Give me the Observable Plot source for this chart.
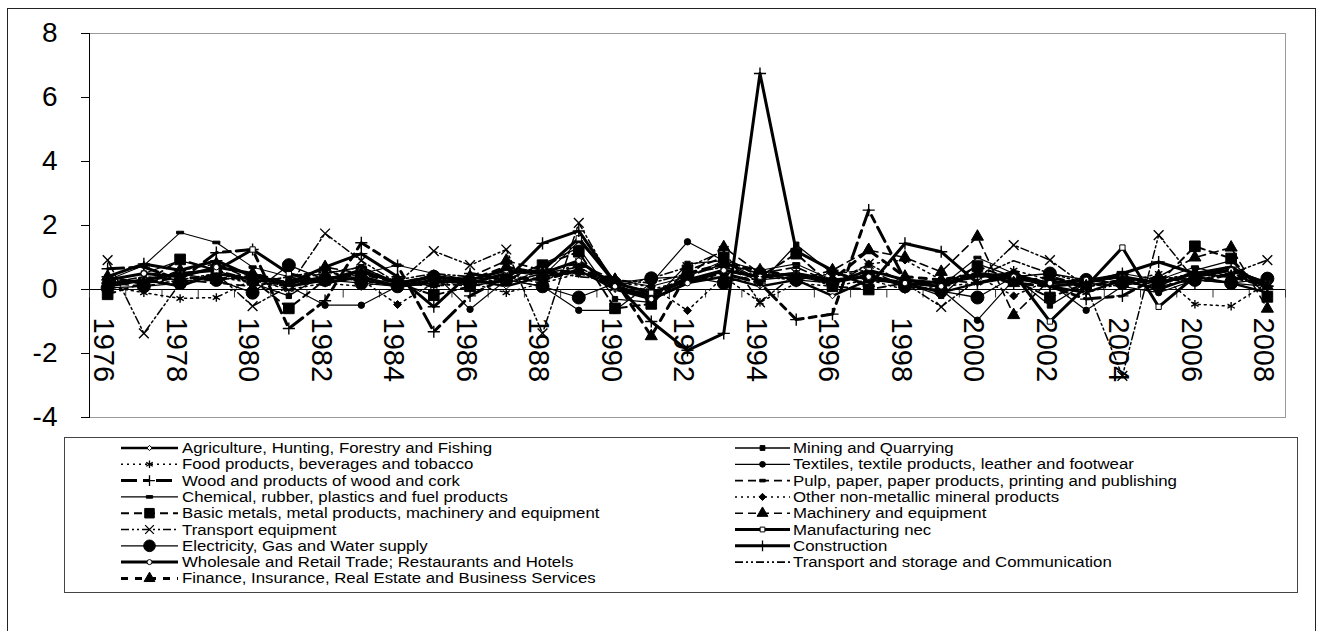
<!DOCTYPE html>
<html>
<head>
<meta charset="utf-8">
<script src="https://cdn.jsdelivr.net/npm/d3@7"></script>
<script src="https://cdn.jsdelivr.net/npm/@observablehq/plot@0.6"></script>
<style>
  body { margin: 0; background: #fff; font-family: "Liberation Sans", Arial, sans-serif; }
  #wrap { position: relative; width: 1320px; height: 631px; overflow: hidden; background: #fff; }
  #chart { position: absolute; left: 0; top: 0; }
  #legend { position: absolute; left: 0; top: 0; pointer-events: none; }
  #border { position: absolute; left: 7px; top: 8px; width: 1309px; height: 660px;
            border: 1.5px solid #222; box-sizing: border-box; pointer-events: none; }
</style>
</head>
<body>
<div id="wrap">
  <div id="chart"></div>
  <svg id="legend" width="1320" height="631"></svg>
  <div id="border"></div>
</div>
<script>
// Years on the category axis and the labelled subset
const years = d3.range(1976, 2009);
const yearLabels = [1976, 1978, 1980, 1982, 1984, 1986, 1988, 1990, 1992, 1994, 1996, 1998, 2000, 2002, 2004, 2006, 2008];
const yTicks = [-4, -2, 0, 2, 4, 6, 8];

// Series values, 1976–2008
const agriculture      = [0.2,0.3,0.1,0.5,0.3, 0.2,0.4,0.3,0.1,0.2, 0.3,0.1,0.4,0.6,0.0, -0.3,0.2,0.4,0.1,0.3, -0.2,0.3,0.2,-0.1,0.2, 0.5,0.1,-0.1,0.3,0.0, 0.4,0.2,-0.1];
const mining           = [0.3,0.5,0.9,0.6,0.2, -0.2,0.5,0.7,0.2,0.4, 0.1,0.3,0.8,1.3,-0.3, -0.4,0.8,0.9,0.2,1.4, 0.5,0.3,0.2,-0.2,0.8, 0.4,-0.5,0.2,0.4,0.1, 0.6,0.9,-0.2];
const food             = [0.1,-0.1,-0.28,-0.25,0.3, 0.0,0.2,0.1,0.3,0.1, 0.2,-0.1,0.2,0.9,0.1, 0.0,0.3,0.4,-0.4,0.2, 0.1,0.3,0.0,0.1,0.2, 0.6,0.3,-0.1,0.2,0.5, -0.46,-0.52,0.2];
const textiles         = [0.4,0.2,0.5,0.3,0.4, 0.1,-0.49,-0.49,0.1,0.5, -0.62,0.3,0.1,-0.65,-0.65, 0.2,1.49,0.9,0.3,0.4, 0.2,0.5,0.1,0.0,-0.96, 0.3,0.2,-0.65,0.1,-0.1, 0.3,0.2,0.1];
const wood             = [0.65,0.7,0.3,1.15,1.25, -1.22,-0.35,1.46,0.75,-1.32, -0.2,0.4,0.3,0.6,0.1, -0.2,0.3,0.5,0.2,-0.94, -0.77,2.48,0.3,0.1,0.5, 0.2,0.1,-0.3,-0.2,0.4, 0.2,0.5,0.1];
const pulp             = [0.2,0.1,0.3,0.2,0.1, 0.3,0.5,0.7,0.2,0.1, 0.3,0.2,0.5,0.7,0.1, -0.2,0.4,0.8,0.5,0.7, 0.2,0.6,0.1,0.3,0.2, 0.4,0.2,0.1,0.3,0.2, 0.4,0.6,0.1];
const chemical         = [0.3,0.75,1.78,1.47,0.7, 0.4,0.2,0.5,0.76,0.5, 0.3,0.6,0.4,1.5,0.3, 0.1,0.4,0.9,0.6,0.8, 0.3,0.4,0.2,0.1,1.0, 0.5,0.2,0.3,0.5,0.3, 0.7,0.4,0.2];
const otherMineral     = [0.1,0.3,0.2,0.4,0.2, 0.1,0.6,0.3,-0.47,0.2, 0.1,0.4,0.2,0.5,0.2, 0.1,-0.66,0.4,0.3,0.5, 0.2,0.8,0.92,0.3,0.4, -0.2,0.3,0.1,0.2,0.3, 0.5,0.4,0.1];
const basicMetals      = [-0.15,0.2,0.94,0.6,0.3, -0.59,0.3,0.55,0.2,-0.18, 0.1,0.3,0.76,1.18,-0.59, -0.45,0.6,1.0,0.4,1.12, 0.1,0.0,0.2,0.1,0.73, 0.3,-0.25,0.2,0.4,0.2, 1.35,0.97,-0.23];
const machinery        = [0.4,0.2,0.6,0.8,0.3, 0.1,0.7,0.5,0.3,0.2, 0.4,0.9,0.6,0.8,0.3, -0.2,0.4,1.32,0.5,0.3, 0.6,1.23,1.0,0.55,1.65, -0.8,0.3,0.1,0.2,0.4, 1.0,1.31,-0.6];
const transportEquip   = [0.92,-1.37,0.2,0.5,-0.52, 0.1,1.75,0.9,0.2,1.2, 0.76,1.25,-1.37,2.08,0.1, 0.35,0.7,1.2,-0.4,0.5, 0.1,0.8,0.2,-0.54,0.3, 1.39,0.92,0.1,-2.7,1.7, 0.3,0.5,0.92];
const manufacturingNec = [0.1,0.3,0.5,0.6,1.25, 0.5,0.2,0.4,0.1,0.3, 0.2,0.5,0.6,1.6,0.2, -0.1,0.3,0.6,0.4,0.5, 0.2,0.6,0.3,0.2,0.4, 0.5,-1.0,0.1,1.31,-0.54, 0.4,0.6,0.2];
const electricity      = [0.05,0.1,0.2,0.3,-0.1, 0.76,0.3,0.2,0.1,0.4, 0.2,0.3,0.1,-0.25,0.2, 0.35,0.4,0.2,0.5,0.3, 0.2,0.4,0.1,-0.05,-0.25, 0.4,0.5,0.3,0.2,0.1, 0.3,0.2,0.34];
const construction     = [0.4,0.8,0.6,0.9,0.4, 0.2,0.7,1.12,0.4,-0.54, 0.5,0.3,1.44,1.83,0.2, -1.0,-1.9,-1.37,6.75,1.2, 0.6,0.1,1.44,1.18,0.2, 0.4,0.1,0.2,0.5,0.86, 0.5,0.7,0.1];
const wholesale        = [0.3,0.5,0.4,0.7,0.5, 0.1,0.3,0.6,0.2,0.4, 0.3,0.6,0.5,0.9,0.1, -0.3,0.2,0.6,0.4,0.5, 0.3,0.4,0.2,0.1,0.5, 0.4,0.2,0.3,0.4,0.2, 0.5,0.6,0.2];
const transportStorage = [0.2,0.4,0.3,0.5,0.2, 0.4,0.6,0.2,0.3,0.5, 0.4,0.2,0.6,0.4,0.3, 0.2,0.5,0.7,0.4,0.3, 0.5,0.6,0.3,0.2,0.4, 0.9,0.5,0.2,0.1,0.4, 0.3,0.5,0.2];
const finance          = [0.3,0.2,0.4,0.3,0.5, 0.2,0.3,0.5,0.2,0.4, 0.3,0.7,0.5,0.6,0.3, -1.46,0.5,0.8,0.6,0.4, 0.3,1.23,0.4,0.3,0.5, 0.2,0.4,0.1,0.3,0.2, 0.5,0.4,0.1];

// Custom marker shapes: a short horizontal bar, and a downward tick for the category axis
const dashMarker = { draw(ctx, size) { const w = Math.sqrt(size); ctx.rect(-w / 2, -1.3, w, 2.6); } };
const tickDown = { draw(ctx) { ctx.moveTo(0, 0); ctx.lineTo(0, 8); } };

// Line and marker styling per series (legend order)
const styles = [
  { name: "Agriculture, Hunting, Forestry and Fishing", values: agriculture, width: 2.4, dash: null, symbol: d3.symbolDiamond2, r: 2.6, fill: "white" },
  { name: "Mining and Quarrying", values: mining, width: 1.3, dash: null, symbol: d3.symbolSquare, r: 3, fill: "black" },
  { name: "Food products, beverages and tobacco", values: food, width: 1.5, dash: "2,4", symbol: d3.symbolAsterisk, r: 4, fill: "none" },
  { name: "Textiles, textile products, leather and footwear", values: textiles, width: 1.2, dash: null, symbol: d3.symbolCircle, r: 3.2, fill: "black" },
  { name: "Wood and products of wood and cork", values: wood, width: 3, dash: "16,6,7,6", symbol: d3.symbolPlus, r: 4, fill: "none" },
  { name: "Pulp, paper, paper products, printing and publishing", values: pulp, width: 1.6, dash: "8,5", symbol: dashMarker, r: 3.5, fill: "black" },
  { name: "Chemical, rubber, plastics and fuel products", values: chemical, width: 1.1, dash: null, symbol: dashMarker, r: 4, fill: "black" },
  { name: "Other non-metallic mineral products", values: otherMineral, width: 1.5, dash: "2,4", symbol: d3.symbolDiamond2, r: 3.6, fill: "black" },
  { name: "Basic metals, metal products, machinery and equipment", values: basicMetals, width: 2, dash: "8,5", symbol: d3.symbolSquare, r: 6, fill: "black" },
  { name: "Machinery and equipment", values: machinery, width: 1.6, dash: "8,5", symbol: d3.symbolTriangle, r: 4.5, fill: "black" },
  { name: "Transport equipment", values: transportEquip, width: 1.5, dash: "8,3,2,3,2,3", symbol: d3.symbolTimes, r: 4.5, fill: "none" },
  { name: "Manufacturing nec", values: manufacturingNec, width: 3, dash: null, symbol: d3.symbolSquare, r: 3, fill: "white" },
  { name: "Electricity, Gas and Water supply", values: electricity, width: 1.3, dash: null, symbol: d3.symbolCircle, r: 6.5, fill: "black" },
  { name: "Construction", values: construction, width: 3, dash: null, symbol: d3.symbolPlus, r: 4, fill: "none" },
  { name: "Wholesale and Retail Trade; Restaurants and Hotels", values: wholesale, width: 3, dash: null, symbol: d3.symbolCircle, r: 2.8, fill: "white" },
  { name: "Transport and storage and Communication", values: transportStorage, width: 1.6, dash: "8,3,2,3,2,3", symbol: null, r: 0, fill: "none" },
  { name: "Finance, Insurance, Real Estate and Business Services", values: finance, width: 3, dash: "7,7", symbol: d3.symbolTriangle, r: 4.5, fill: "black" }
];

const boundaries = years.map(y => y - 0.5).concat([years[years.length - 1] + 0.5]);

const marks = [
  Plot.frame({ stroke: "#9a9a9a" }),
  Plot.frame({ anchor: "left", stroke: "black" }),
  Plot.ruleY([0], { stroke: "black", strokeWidth: 1 }),
  Plot.dot(boundaries, { x: d => d, y: 0, symbol: tickDown, stroke: "#333", fill: "none", strokeWidth: 1 }),
  Plot.text(yearLabels, { x: d => d, y: 0, text: d => String(d), rotate: 90, textAnchor: "start",
                          lineAnchor: "middle", dy: 28, dx: -4, fontSize: 29, fill: "black" }),
  Plot.axisY({ ticks: yTicks, tickFormat: d => String(d), tickSize: 8, tickPadding: 24,
               fontSize: 28, stroke: "black", fill: "black", label: null })
];

for (const s of styles) {
  const rows = years.map((year, i) => ({ year, value: s.values[i] }));
  marks.push(Plot.line(rows, { x: "year", y: "value", stroke: "black", strokeWidth: s.width,
                               strokeDasharray: s.dash || undefined, strokeLinejoin: "round" }));
  if (s.symbol) {
    const strokeOnly = s.fill === "none";
    marks.push(Plot.dot(rows, { x: "year", y: "value", symbol: s.symbol, r: s.r,
                                fill: s.fill, stroke: "black", strokeWidth: strokeOnly ? 1.4 : 1 }));
  }
}

const chart = Plot.plot({
  width: 1320,
  height: 425,
  marginLeft: 89,
  marginRight: 35,
  marginTop: 33,
  marginBottom: 8,
  style: { background: "transparent", fontFamily: "'Liberation Sans', Arial, sans-serif", color: "black", overflow: "visible" },
  x: { type: "linear", domain: [1975.5, 2008.5], axis: null },
  y: { domain: [-4, 8], axis: null, label: null },
  marks
});
document.getElementById("chart").append(chart);

// Legend box below the plot
const leg = d3.select("#legend");
leg.append("rect").attr("x", 64.5).attr("y", 437.5).attr("width", 1233).attr("height", 155)
  .attr("fill", "white").attr("stroke", "#444").attr("stroke-width", 1);

styles.forEach((s, k) => {
  const col = k % 2, row = Math.floor(k / 2);
  const x0 = col ? 735 : 121, x1 = col ? 790 : 178;
  const y = 448 + row * 16.3;
  const g = leg.append("g");
  g.append("line").attr("x1", x0).attr("x2", x1).attr("y1", y).attr("y2", y)
    .attr("stroke", "black").attr("stroke-width", s.width)
    .attr("stroke-dasharray", s.dash || null);
  if (s.symbol) {
    g.append("path")
      .attr("transform", `translate(${(x0 + x1) / 2},${y})`)
      .attr("d", d3.symbol(s.symbol, Math.PI * s.r * s.r * 0.8)())
      .attr("fill", s.fill).attr("stroke", "black")
      .attr("stroke-width", s.fill === "none" ? 1.3 : 1);
  }
  // Compact legend type, widened horizontally to the column's text width
  const t = g.append("text").attr("x", col ? 793 : 182).attr("y", y).attr("dy", "0.36em")
    .attr("font-size", 14).attr("font-family", "'Liberation Sans', Arial, sans-serif")
    .attr("fill", "black").text(s.name);
  const natural = t.node().getComputedTextLength();
  t.attr("textLength", natural * 1.2).attr("lengthAdjust", "spacingAndGlyphs");
});
</script>
</body>
</html>
